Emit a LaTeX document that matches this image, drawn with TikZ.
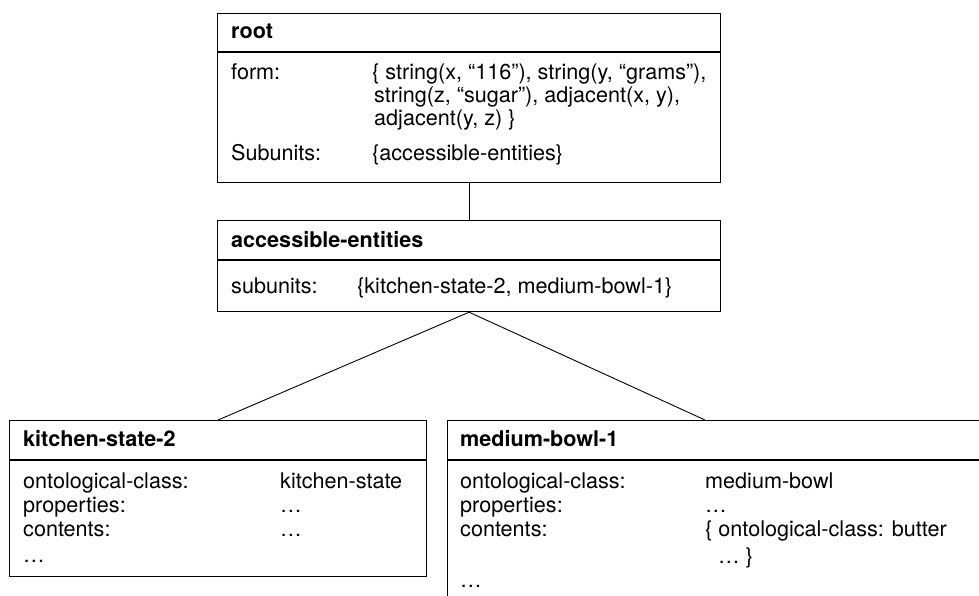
\documentclass[tikz,border=0pt]{standalone}
\usepackage{fontspec}
\setmainfont{TeX Gyre Heros}
\tikzset{
  unitbox/.style={draw,line width=1.2pt,anchor=north west,inner sep=0pt},
  txt/.style={anchor=base west,inner sep=0pt,font=\fontsize{21.6}{24}\selectfont},
  ttl/.style={txt,font=\fontsize{21.6}{24}\selectfont\bfseries},
  link/.style={line width=0.9pt}
}

\begin{document}
\begin{tikzpicture}[x=1pt,y=-1pt]
\useasboundingbox (0,0) rectangle (979,596);
\clip (0,0) rectangle (979,596);

% boxes
\node[unitbox,minimum width=503pt,minimum height=169pt] (root) at (217,13) {};
\node[unitbox,minimum width=503pt,minimum height=91pt] (acc) at (217,220) {};
\node[unitbox,minimum width=417pt,minimum height=156pt] (kitchen) at (9,420) {};
\node[unitbox,minimum width=580pt,minimum height=220pt] (medium) at (447,420) {};

% header lines
\begin{scope}[line width=1.2pt]
\draw (root.west |- 0,52) -- (root.east |- 0,52);
\draw (acc.west |- 0,260) -- (acc.east |- 0,260);
\draw (kitchen.west |- 0,460) -- (kitchen.east |- 0,460);
\draw (medium.west |- 0,460) -- (medium.east |- 0,460);
\end{scope}

% connectors
\draw[link] (root.south) -- (acc.north);
\draw[link] (acc.south) -- (kitchen.north);
\draw[link] (acc.south) -- ([xshift=258pt]medium.north west);

% root
\node[ttl] (rootT) at (231,39) {root};
\node[txt] (rootF) at (231,80) {form:};
\node[txt] (rootF1) at (372,80) {\{ string(x, “116”), string(y, “grams”),};
\node[txt] (rootF2) at (374,103) {string(z, “sugar”), adjacent(x, y),};
\node[txt] (rootF3) at (374,126) {adjacent(y, z) \}};
\node[txt] (rootS) at (231,161) {Subunits:};
\node[txt] (rootS1) at (372,161) {\{accessible-entities\}};

% accessible-entities
\node[ttl] (accT) at (231,247) {accessible-entities};
\node[txt] (accS) at (231,293) {subunits:};
\node[txt] (accS1) at (357,293) {\{kitchen-state-2, medium-bowl-1\}};

% kitchen-state-2
\node[ttl] (kitT) at (23,446) {kitchen-state-2};
\node[txt] (kitO) at (23,488) {ontological-class:};
\node[txt] (kitO1) at (280,488) {kitchen-state};
\node[txt] (kitP) at (23,512) {properties:};
\node[txt] (kitP1) at (280,512) {…};
\node[txt] (kitC) at (23,536) {contents:};
\node[txt] (kitC1) at (280,536) {…};
\node[txt] (kitE) at (23,562) {…};

% medium-bowl-1
\node[ttl] (medT) at (460,446) {medium-bowl-1};
\node[txt] (medO) at (460,488) {ontological-class:};
\node[txt] (medO1) at (705,488) {medium-bowl};
\node[txt] (medP) at (460,512) {properties:};
\node[txt] (medP1) at (705,512) {…};
\node[txt] (medC) at (460,536) {contents:};
\node[txt] (medC1) at (705,536) {\{ ontological-class: butter};
\node[txt] (medC2) at (718,563) {… \}};
\node[txt] (medE) at (460,587) {…};
\end{tikzpicture}
\end{document}
